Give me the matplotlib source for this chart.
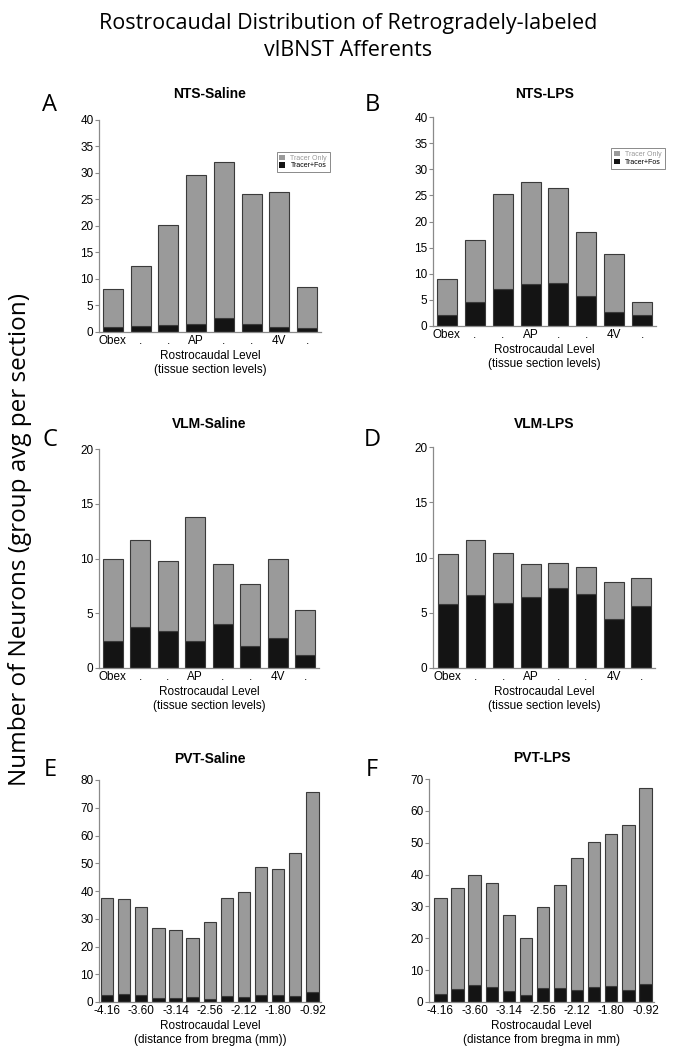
import numpy as np
import matplotlib
matplotlib.use("Agg")
import matplotlib.pyplot as plt
from matplotlib.patches import Patch

# ---- data ----
nts_labels = ["Obex", ".", ".", "AP", ".", ".", "4V", "."]
pvt_labels = ["-4.16", "-3.60", "-3.14", "-2.56", "-2.12", "-1.80", "-0.92"]

nts_sal_total = [8.2, 12.4, 20.2, 29.7, 32.0, 26.0, 26.5, 8.5]
nts_sal_fos = [0.9, 1.2, 1.4, 1.6, 2.7, 1.6, 0.9, 0.7]

nts_lps_total = [8.9, 16.5, 25.2, 27.6, 26.4, 17.9, 13.7, 4.5]
nts_lps_fos = [2.2, 4.6, 7.1, 8.0, 8.2, 5.8, 2.6, 2.2]

vlm_sal_total = [10.0, 11.7, 9.8, 13.8, 9.5, 7.7, 10.0, 5.3]
vlm_sal_fos = [2.5, 3.7, 3.4, 2.5, 4.0, 2.0, 2.7, 1.2]

vlm_lps_total = [10.3, 11.6, 10.4, 9.4, 9.5, 9.1, 7.8, 8.1]
vlm_lps_fos = [5.8, 6.6, 5.9, 6.4, 7.2, 6.7, 4.4, 5.6]

pvt_sal_total = [37.5, 37.0, 34.2, 26.7, 26.0, 23.0, 28.8, 37.4, 39.8, 48.8, 47.8, 53.8, 75.7]
pvt_sal_fos = [2.4, 2.8, 2.4, 1.5, 1.6, 1.9, 1.1, 2.3, 1.8, 2.7, 2.6, 2.1, 3.6]

pvt_lps_total = [32.8, 35.9, 39.8, 37.4, 27.4, 20.1, 29.9, 36.7, 45.2, 50.1, 52.6, 55.5, 67.3]
pvt_lps_fos = [2.6, 4.0, 5.3, 4.8, 3.5, 2.1, 4.3, 4.5, 3.7, 4.7, 5.1, 3.7, 5.5]

GRAY = "#9a9a9a"
BLACK = "#141414"
EDGE = "#3a3a3a"
AXC = "#8a8a8a"

plt.rcParams["font.family"] = ["Liberation Sans", "DejaVu Sans"]

fig = plt.figure(figsize=(6.78, 10.5), dpi=100)
W, H = 678.0, 1050.0


def px_axes(left, right, top, bottom):
    return fig.add_axes([left / W, 1 - bottom / H, (right - left) / W, (bottom - top) / H])


def panel(ax, total, fos, title, ymax, ystep, xlim, xticks, xlabels, xlabel, tpad, legend=False):
    total = np.array(total)
    fos = np.array(fos)
    x = np.arange(len(total))
    ax.bar(x, fos, width=0.72, color=BLACK, edgecolor=EDGE, linewidth=0.8, label="Tracer+Fos")
    ax.bar(x, total - fos, bottom=fos, width=0.72, color=GRAY, edgecolor=EDGE,
           linewidth=0.8, label="Tracer Only")
    ax.set_xlim(*xlim)
    ax.set_ylim(0, ymax)
    ax.set_yticks(np.arange(0, ymax + 0.1, ystep))
    ax.set_xticks(xticks)
    ax.set_xticklabels(xlabels)
    ax.tick_params(axis="y", direction="out", length=3, width=0.8, color=AXC,
                   labelsize=8.5, pad=1)
    ax.tick_params(axis="x", length=0, labelsize=8.5, pad=2)
    for s in ["top", "right"]:
        ax.spines[s].set_visible(False)
    for s in ["left", "bottom"]:
        ax.spines[s].set_color(AXC)
        ax.spines[s].set_linewidth(0.9)
    ax.set_xlabel(xlabel, fontsize=8.5, labelpad=2, linespacing=1.3)
    ax.set_title(title, fontsize=10, fontweight="bold", pad=tpad)
    if legend:
        h = [Patch(facecolor=GRAY, edgecolor="none"), Patch(facecolor=BLACK, edgecolor="none")]
        leg = ax.legend(h, ["Tracer Only", "Tracer+Fos"], loc="upper left",
                        bbox_to_anchor=(0.8, 0.85), fontsize=5, frameon=True, fancybox=False,
                        handlelength=0.8, handleheight=0.8, handletextpad=0.8,
                        labelspacing=0.1, borderpad=0.4, borderaxespad=0)
        leg.get_frame().set_edgecolor("#555555")
        leg.get_frame().set_linewidth(0.6)
        leg.get_texts()[0].set_color("#999999")


xl8 = "Rostrocaudal Level\n(tissue section levels)"
x8 = np.arange(8)
x13 = np.arange(0, 13, 2)

axA = px_axes(99, 321, 120, 332)
panel(axA, nts_sal_total, nts_sal_fos, "NTS-Saline", 40, 5, (-0.5, 7.5), x8, nts_labels, xl8, 16, legend=True)

axB = px_axes(433, 656, 117, 326)
panel(axB, nts_lps_total, nts_lps_fos, "NTS-LPS", 40, 5, (-0.5, 7.5), x8, nts_labels, xl8, 14, legend=True)

axC = px_axes(99, 319, 449, 668)
panel(axC, vlm_sal_total, vlm_sal_fos, "VLM-Saline", 20, 5, (-0.5, 7.5), x8, nts_labels, xl8, 15)

axD = px_axes(433, 655, 447, 668)
panel(axD, vlm_lps_total, vlm_lps_fos, "VLM-LPS", 20, 5, (-0.54, 7.5), x8, nts_labels, xl8, 14)

axE = px_axes(99, 321, 780, 1002)
panel(axE, pvt_sal_total, pvt_sal_fos, "PVT-Saline", 80, 10, (-0.47, 12.5), x13, pvt_labels,
      "Rostrocaudal Level\n(distance from bregma (mm))", 12)

axF = px_axes(429, 654, 779, 1002)
panel(axF, pvt_lps_total, pvt_lps_fos, "PVT-LPS", 70, 10, (-0.67, 12.5), x13, pvt_labels,
      "Rostrocaudal Level\n(distance from bregma in mm)", 12)

# figure-level text
tfont = ["Open Sans", "DejaVu Sans"]
fig.text(0.513, 1 - 37 / H, "Rostrocaudal Distribution of Retrogradely-labeled\nvlBNST Afferents",
         ha="center", va="center", fontsize=15.5, family=tfont, linespacing=1.4)
fig.text(20 / W, 1 - 540 / H, "Number of Neurons (group avg per section)", rotation=90,
         ha="center", va="center", fontsize=17.5, family=tfont)
for letter, (lx, ly) in zip("ABCDEF", [(50, 105), (372, 105), (50, 440), (372, 440), (50, 770), (372, 770)]):
    fig.text(lx / W, 1 - ly / H, letter, ha="center", va="center", fontsize=17, family=tfont)

fig.savefig("out.png", dpi=100)
